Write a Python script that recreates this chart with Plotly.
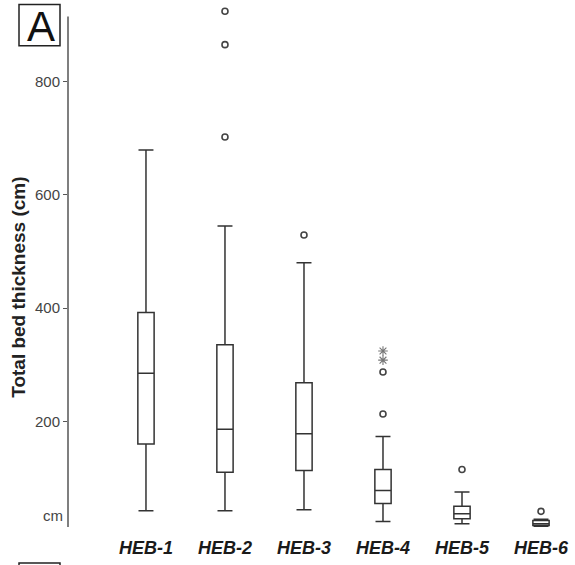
import plotly.graph_objects as go

categories = ["HEB-1", "HEB-2", "HEB-3", "HEB-4", "HEB-5", "HEB-6"]
lower_whisker = [42, 42, 44, 23, 19, 14]
q1_values = [160, 110, 113, 55, 28, 16]
median_values = [285, 186, 178, 78, 37, 19]
q3_values = [392, 335, 268, 115, 50, 25]
upper_whisker = [679, 545, 480, 173, 75, 27]
outlier_cat = [1, 1, 1, 2, 3, 3, 4, 5]
outlier_vals = [702, 865, 924, 529, 213, 287, 115, 41]
extreme_cat = [3, 3]
extreme_vals = [308, 324]
y_ticks = [200, 400, 600, 800]

LINE = "#333333"
Y_LO, Y_HI = 13.4, 914.5      # visible extent of the vertical axis line
Y_TOP = 935.0                  # range top, leaves room for highest outlier

fig = go.Figure()
for i, name in enumerate(categories):
    fig.add_trace(go.Box(
        x=[i], q1=[q1_values[i]], median=[median_values[i]], q3=[q3_values[i]],
        lowerfence=[lower_whisker[i]], upperfence=[upper_whisker[i]],
        width=0.206, whiskerwidth=0.92, boxpoints=False,
        fillcolor="white", line=dict(color=LINE, width=1.5),
        name=name, showlegend=False, hoverinfo="skip",
    ))

fig.add_trace(go.Scatter(
    x=outlier_cat, y=outlier_vals, mode="markers", cliponaxis=False,
    marker=dict(symbol="circle-open", size=6, color="#444444", line=dict(width=1.6)),
    showlegend=False, hoverinfo="skip",
))
fig.add_trace(go.Scatter(
    x=extreme_cat, y=extreme_vals, mode="markers", cliponaxis=False,
    marker=dict(symbol="asterisk-open", size=8, color="#777777", line=dict(width=1.1)),
    showlegend=False, hoverinfo="skip",
))

H_PLOT = 527 - 5.4
def py(pix):
    return (527 - pix) / H_PLOT

annotations = []
for i, name in enumerate(categories):
    annotations.append(dict(
        x=i, y=0, xref="x", yref="paper", yshift=-21, yanchor="middle",
        text="<b><i>%s</i></b>" % name, showarrow=False,
        font=dict(family="Arial, Liberation Sans", size=18, color="#1a1a1a"),
    ))
annotations.append(dict(
    x=0, y=py(288), xref="paper", yref="paper", xshift=-49,
    xanchor="center", yanchor="middle", textangle=-90, showarrow=False,
    text="<b>Total bed thickness (cm)</b>",
    font=dict(family="Arial, Liberation Sans", size=19, color="#222222"),
))
annotations.append(dict(
    x=0, y=py(516), xref="paper", yref="paper", xshift=-3,
    xanchor="right", yanchor="middle", showarrow=False, text="cm",
    font=dict(family="Arial, Liberation Sans", size=15, color="#444444"),
))
annotations.append(dict(
    x=(41 - 68) / 502, y=py(27), xref="paper", yref="paper",
    xanchor="center", yanchor="middle", showarrow=False, text="A",
    font=dict(family="Arial, Liberation Sans", size=42, color="#111111"),
))

shapes = [
    dict(type="line", xref="paper", yref="y", x0=0, x1=0, y0=Y_LO, y1=Y_HI,
         line=dict(color="#555555", width=1.5)),
    dict(type="rect", xref="paper", yref="paper",
         x0=(19 - 68) / 502, x1=(60 - 68) / 502,
         y0=py(46), y1=py(5),
         line=dict(color="#222222", width=1.5), fillcolor="rgba(0,0,0,0)"),
    dict(type="rect", xref="paper", yref="paper",
         x0=(19 - 68) / 502, x1=(60 - 68) / 502,
         y0=py(600), y1=py(563),
         line=dict(color="#222222", width=1.5), fillcolor="rgba(0,0,0,0)"),
]

fig.update_layout(
    width=575, height=565,
    margin=dict(l=68, r=5, t=5.4, b=38),
    paper_bgcolor="white", plot_bgcolor="white",
    showlegend=False,
    xaxis=dict(range=[-0.987, 5.367], showline=False, showgrid=False,
               zeroline=False, showticklabels=False, ticks=""),
    yaxis=dict(range=[Y_LO, Y_TOP], showline=False,
               showgrid=False, zeroline=False, ticks="outside", ticklen=4,
               tickcolor="#555555", tickwidth=1.2, tickvals=y_ticks,
               tickfont=dict(family="Arial, Liberation Sans", size=15, color="#444444")),
    annotations=annotations, shapes=shapes,
)

fig.write_html("out.html", config={"displayModeBar": False},
               post_script="document.body.style.margin='0';")
